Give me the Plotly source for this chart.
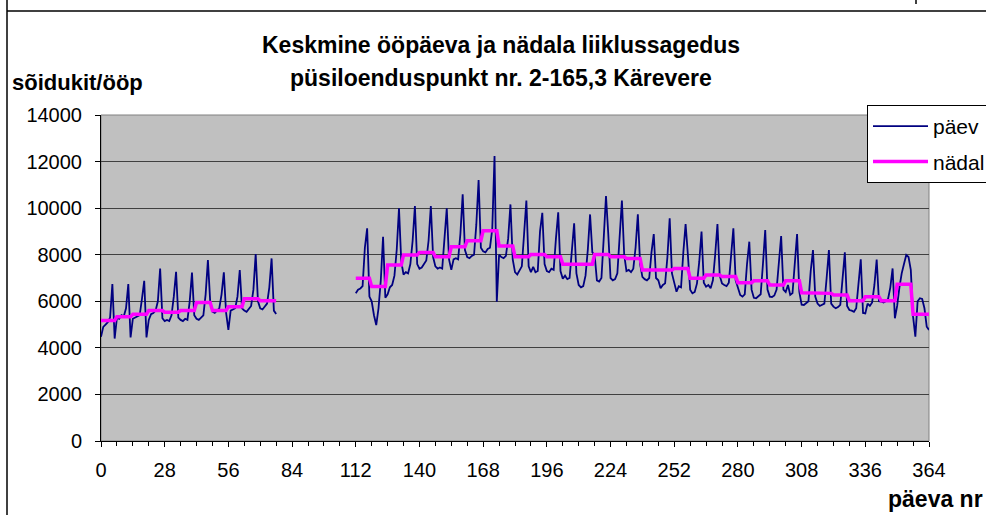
import plotly.graph_objects as go

# ---- data ----
seg1_start = 0
daily_seg1 = [
    4480, 4900, 5000, 5100, 5300, 6740, 4400,
    5300, 5250, 5400, 5350, 5700, 6740, 4450,
    5250, 5300, 5330, 5400, 6100, 6880, 4450,
    5200, 5450, 5500, 5600, 6000, 7410, 5270,
    5150, 5200, 5150, 5400, 6200, 7270, 5300,
    5200, 5150, 5250, 5200, 6000, 7230, 5400,
    5250, 5200, 5300, 5400, 6300, 7770, 6000,
    5550, 5500, 5600, 5700, 6300, 7240, 5500,
    4770, 5600, 5650, 5700, 6200, 7340, 5700,
    5600, 5550, 5700, 5800, 6500, 8030, 6000,
    5700, 5650, 5800, 5900, 6600, 7840, 5600,
    5450,
]
seg2_start = 112
daily_seg2 = [
    6350, 6500, 6550, 6650, 8300, 9130, 6200,
    6000, 5400, 4980, 5700, 6900, 8770, 6150,
    6300, 6600, 6700, 7100, 8200, 9990, 7700,
    7150, 7250, 7200, 7600, 8600, 10090, 7600,
    7400, 7450, 7600, 7750, 8600, 10090, 7900,
    7500, 7400, 7450, 7400, 8600, 9990, 7800,
    7350, 7800, 7850, 7800, 8900, 10590, 8200,
    7900, 7850, 7950, 8000, 9300, 11210, 8300,
    8150, 8100, 8250, 8300, 9100, 12240, 5980,
    8000, 7900, 7850, 7950, 8700, 10160, 7800,
    7250, 7150, 7300, 7500, 8900, 10330, 7500,
    7250, 7480, 7250, 7300, 9000, 9800, 7600,
    7300, 7250, 7400, 7350, 8700, 9820, 7300,
    6970, 7100, 6950, 7000, 8300, 9350, 7200,
    6700, 6600, 6650, 7100, 8200, 9730, 8100,
    8000, 6900, 6850, 7000, 8700, 10520, 8900,
    7000, 6900, 6950, 7200, 8800, 10330, 8000,
    7300, 7350, 7250, 7400, 8300, 9740, 7600,
    7050, 6950, 6900, 7000, 8100, 8890, 7000,
    6900, 6560, 6700, 6770, 7900, 9560, 7200,
    6800, 6410, 6650, 6600, 8100, 9320, 8000,
    6500, 6340, 6400, 6770, 7700, 8990, 6800,
    6630, 6700, 6560, 6900, 8000, 9320, 7100,
    6770, 6700, 6650, 6800, 8000, 9130, 6900,
    6600, 6270, 6200, 6300, 7600, 8560, 6500,
    6150, 6130, 6200, 6300, 7600, 9060, 6500,
    6200, 6180, 6250, 6500, 7800, 8800, 6500,
    6400, 6700, 6270, 6350, 7700, 8890, 6400,
    5850, 5840, 5910, 6000, 7300, 8200, 6200,
    5900, 5800, 5850, 5900, 7000, 8200, 5900,
    5770, 5700, 5750, 5850, 7000, 8100, 5800,
    5625, 5600, 5550, 5700, 6800, 7800, 5500,
    5480, 5900, 5800, 5950, 6700, 7790, 6000,
    5990, 5950, 6000, 6100, 6600, 7410, 5270,
    5800, 6600, 7200, 7600, 7990, 7900, 7350,
    5340, 4480, 6000, 6130, 6100, 5700, 4910,
    4770,
]
# weekly averages (week number = day // 7)
weekly_seg1 = [5170, 5340, 5440, 5600, 5530, 5600, 5950, 5600, 5770, 6110, 6020, 6020]
weekly_seg1_first_week = 0
weekly_seg2 = [6985, 6630, 7560, 7990, 8100, 7910, 8340, 8600, 9030, 8370, 7910, 8010,
               7910, 7590, 7590, 8010, 7910, 7840, 7340, 7340, 7410, 6985, 7130, 7060,
               6800, 6880, 6700, 6880, 6370, 6340, 6270, 6020, 6200, 6020, 6730, 5440, 5440]
weekly_seg2_first_week = 16

x_ticks = list(range(0, 365, 28))
y_ticks = list(range(0, 14001, 2000))

title1 = "Keskmine ööpäeva ja nädala liiklussagedus"
title2 = "püsiloenduspunkt nr. 2-165,3 Kärevere"
y_title = "sõidukit/ööp"
x_title = "päeva nr"
name_daily = "päev"
name_weekly = "nädal"

# ---- build traces ----
days1 = list(range(seg1_start, seg1_start + len(daily_seg1)))
days2 = list(range(seg2_start, seg2_start + len(daily_seg2)))
dx = days1 + [None] + days2
dy = daily_seg1 + [None] + daily_seg2

wy1 = [weekly_seg1[d // 7 - weekly_seg1_first_week] for d in days1]
wy2 = [weekly_seg2[d // 7 - weekly_seg2_first_week] for d in days2]
wy = wy1 + [None] + wy2

FONT = "Liberation Sans, Arial, sans-serif"

fig = go.Figure()
fig.add_trace(go.Scatter(x=dx, y=dy, mode="lines", name=name_daily,
                         line=dict(color="#000080", width=1.8), connectgaps=False,
                         legendgroup="a"))
fig.add_trace(go.Scatter(x=dx, y=wy, mode="lines", name=name_weekly,
                         line=dict(color="#FF00FF", width=3.5), connectgaps=False,
                         legendgroup="b"))

L, R, T, B = 101, 57, 115, 74
W, H = 986, 515
pw, ph = W - L - R, H - T - B


def px(xp):
    return (xp - L) / pw


def py(yp):
    return (H - B - yp) / ph


fig.update_layout(
    width=W, height=H,
    margin=dict(l=L, r=R, t=T, b=B, pad=0, autoexpand=False),
    paper_bgcolor="white",
    plot_bgcolor="#C0C0C0",
    font=dict(family=FONT, size=20, color="black"),
    showlegend=True,
    legend=dict(x=px(867), y=py(105), xanchor="left", yanchor="top",
                bgcolor="white", bordercolor="black", borderwidth=1,
                font=dict(size=21, family=FONT),
                traceorder="grouped", tracegroupgap=5,
                itemwidth=55),
    xaxis=dict(range=[0, 364], tickmode="array", tickvals=x_ticks,
               showgrid=False, zeroline=False,
               showline=True, linecolor="black", linewidth=1,
               ticks="outside", ticklen=5, tickcolor="black",
               minor=dict(dtick=7, tick0=0, ticks="outside", ticklen=4, tickcolor="black", showgrid=False),
               tickfont=dict(size=20), ticklabelstandoff=6),
    yaxis=dict(range=[0, 14000], tickmode="array", tickvals=y_ticks, tickformat="d",
               showgrid=True, gridcolor="#404040", gridwidth=1,
               zeroline=False,
               showline=True, linecolor="black", linewidth=1,
               ticks="outside", ticklen=5, tickcolor="black",
               tickfont=dict(size=20), ticklabelstandoff=9),
    annotations=[
        dict(text="<b>" + title1 + "</b>", x=px(501), y=py(45), xref="paper", yref="paper",
             xanchor="center", yanchor="middle", showarrow=False, font=dict(size=23)),
        dict(text="<b>" + title2 + "</b>", x=px(501), y=py(78), xref="paper", yref="paper",
             xanchor="center", yanchor="middle", showarrow=False, font=dict(size=23)),
        dict(text="<b>" + y_title + "</b>", x=px(10), y=py(83), xref="paper", yref="paper",
             xanchor="left", yanchor="middle", showarrow=False, font=dict(size=22)),
        dict(text="<b>" + x_title + "</b>", x=px(985), y=py(499), xref="paper", yref="paper",
             xanchor="right", yanchor="middle", showarrow=False, font=dict(size=23)),
    ],
    shapes=[
        dict(type="rect", xref="paper", yref="paper", x0=0, x1=1, y0=0, y1=1,
             line=dict(color="#808080", width=1), layer="below"),
        dict(type="line", xref="paper", yref="paper", x0=px(7), x1=px(7), y0=py(0), y1=py(515),
             line=dict(color="black", width=1.5)),
        dict(type="line", xref="paper", yref="paper", x0=px(7), x1=px(986), y0=py(11), y1=py(11),
             line=dict(color="black", width=1.5)),
        dict(type="line", xref="paper", yref="paper", x0=px(916), x1=px(916), y0=py(0), y1=py(4),
             line=dict(color="black", width=1.5)),
    ],
)

fig.write_html("out.html", config={"displayModeBar": False},
               post_script="document.body.style.margin='0';document.body.style.padding='0';")
